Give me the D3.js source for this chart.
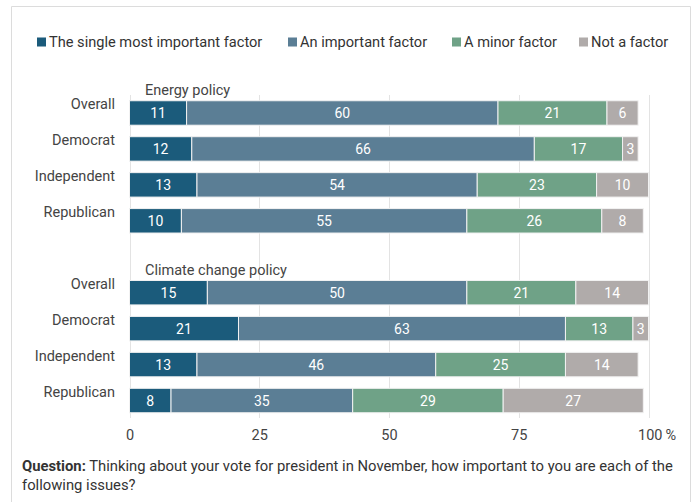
<!DOCTYPE html>
<html>
<head>
<meta charset="utf-8">
<script src="https://cdn.jsdelivr.net/npm/d3@7"></script>
<style>
  html, body { margin: 0; padding: 0; background: #fff; }
  body { width: 692px; height: 502px; overflow: hidden; }
  text { font-family: Roboto, "Open Sans", sans-serif; }
</style>
</head>
<body>
<svg id="chart" width="692" height="502"></svg>
<script>
// Response categories (stack order, left to right)
const responses = ["The single most important factor", "An important factor", "A minor factor", "Not a factor"];
const colors = ["#1b5b7b", "#5b7e95", "#6fa287", "#b0abaa"];

// Groups of respondents
const groups = ["Overall", "Democrat", "Independent", "Republican"];

// Share of respondents (%) per group, one array per response
const energySingle    = [11, 12, 13, 10];
const energyImportant = [60, 66, 54, 55];
const energyMinor     = [21, 17, 23, 26];
const energyNot       = [6, 3, 10, 8];

const climateSingle    = [15, 21, 13, 8];
const climateImportant = [50, 63, 46, 35];
const climateMinor     = [21, 13, 25, 29];
const climateNot       = [14, 3, 14, 27];

const tickValues = [0, 25, 50, 75, 100];
const panels = [
  { title: "Energy policy", key: "e", series: [energySingle, energyImportant, energyMinor, energyNot] },
  { title: "Climate change policy", key: "c", series: [climateSingle, climateImportant, climateMinor, climateNot] }
];

const svg = d3.select("#chart");

// Frame around the figure
svg.append("path")
  .attr("d", "M11.5,502 V6.5 H690.5 V502")
  .attr("fill", "none").attr("stroke", "#dcdcdc").attr("stroke-width", 1);

// Rows: four per panel with one empty row between the panels
const rowKeys = [...groups.map(g => "e" + g), "gap", ...groups.map(g => "c" + g)];
const x = d3.scaleLinear().domain([0, 100]).range([129.5, 648.5]);
const y = d3.scaleBand().domain(rowKeys).range([95, 418.5]).paddingInner(0.32).paddingOuter(0.16);

// Vertical gridlines
const gridTop = 95, gridBottom = 418;
svg.append("g").selectAll("line").data(tickValues).join("line")
  .attr("x1", d => Math.round(x(d)) + 0.5).attr("x2", d => Math.round(x(d)) + 0.5)
  .attr("y1", gridTop).attr("y2", gridBottom)
  .attr("stroke", "#e3e3e3").attr("stroke-width", 1);

// Bottom axis labels
const xAxis = d3.axisBottom(x).tickValues(tickValues).tickSize(0).tickPadding(0)
  .tickFormat(d => d === 100 ? "100\u2009%" : d);
const ax = svg.append("g").attr("transform", `translate(0, 430)`).call(xAxis);
ax.select(".domain").remove();
ax.selectAll("text").attr("font-size", 14.5).attr("fill", "#444").attr("dy", "0.71em")
  .attr("font-family", "Roboto, sans-serif");
ax.selectAll(".tick").filter(d => d === 100).select("text")
  .attr("text-anchor", "start").attr("dx", -11);

panels.forEach(panel => {
  const rows = groups.map((g, i) => {
    let acc = 0;
    const segs = panel.series.map((s, k) => {
      const seg = { key: k, x0: acc, x1: acc + s[i], value: s[i] };
      acc += s[i];
      return seg;
    });
    return { group: g, row: panel.key + g, segs };
  });

  // Panel title above its first row
  svg.append("text")
    .attr("x", 145).attr("y", y(panel.key + groups[0]) - 5.5)
    .attr("font-size", 14.5).attr("fill", "#444")
    .text(panel.title);

  const rowG = svg.append("g").selectAll("g").data(rows).join("g")
    .attr("transform", d => `translate(0, ${y(d.row)})`);

  // Group labels, right aligned, sitting slightly above the bar centre
  rowG.append("text")
    .attr("x", 115).attr("y", y.bandwidth() / 2 - 9)
    .attr("dy", "0.35em").attr("text-anchor", "end")
    .attr("font-size", 14.5).attr("fill", "#444")
    .text(d => d.group);

  const seg = rowG.selectAll("g.seg").data(d => d.segs).join("g").attr("class", "seg");
  seg.append("rect")
    .attr("x", d => x(d.x0)).attr("width", d => x(d.x1) - x(d.x0))
    .attr("y", 0).attr("height", y.bandwidth())
    .attr("fill", d => colors[d.key])
    .attr("stroke", "#f2f2f2").attr("stroke-width", 1);
  seg.append("text")
    .attr("x", d => (x(d.x0) + x(d.x1)) / 2).attr("y", y.bandwidth() / 2)
    .attr("dy", "0.36em").attr("text-anchor", "middle")
    .attr("font-size", 14).attr("fill", "#fff")
    .text(d => d.value);
});

// Legend
const legendX = [37, 288, 452, 579];
const legend = svg.append("g").selectAll("g").data(responses).join("g")
  .attr("transform", (d, i) => `translate(${legendX[i]}, 42)`);
legend.append("rect").attr("x", 0).attr("y", -4.5).attr("width", 9).attr("height", 9)
  .attr("fill", (d, i) => colors[i]);
legend.append("text").attr("x", 12).attr("y", 0).attr("dy", "0.35em")
  .attr("font-size", 14.6).attr("fill", "#333").text(d => d);

// Question note
const note = svg.append("text").attr("x", 22).attr("y", 471).attr("font-size", 14.8).attr("fill", "#333");
note.append("tspan").attr("font-weight", "bold").text("Question:");
note.append("tspan").text(" Thinking about your vote for president in November, how important to you are each of the");
svg.append("text").attr("x", 22).attr("y", 490).attr("font-size", 14.8).attr("fill", "#333")
  .text("following issues?");
</script>
</body>
</html>
